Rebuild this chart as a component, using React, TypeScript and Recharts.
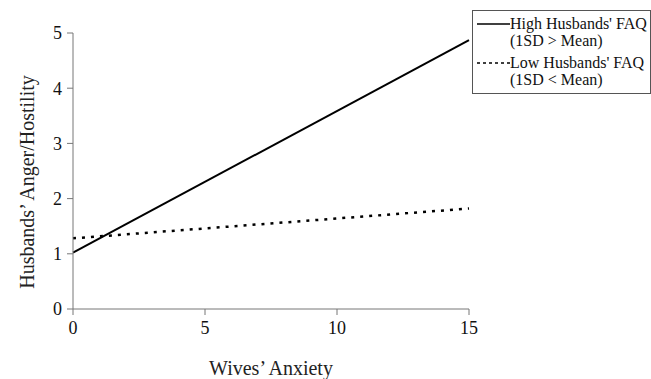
import React from 'react';
import { LineChart, Line, XAxis, YAxis, Label } from 'recharts';

const anxiety = [0, 15];
const highFAQ = [1.02, 4.87];
const lowFAQ = [1.28, 1.82];
const xTicks = [0, 5, 10, 15];
const yTicks = [0, 1, 2, 3, 4, 5];

const data = anxiety.map((x, i) => ({ x, high: highFAQ[i], low: lowFAQ[i] }));

const series = [
  { key: 'high', rows: ["High Husbands' FAQ", '(1SD > Mean)'], dash: undefined },
  { key: 'low', rows: ["Low Husbands' FAQ", '(1SD < Mean)'], dash: '3 3' },
];

const font = '"Liberation Serif", "DejaVu Serif", serif';

const LegendBox = () => (
  <div
    style={{
      position: 'absolute',
      left: 472,
      top: 10,
      width: 170,
      border: '1px solid #555',
      background: '#fff',
      padding: '4px 4px 5px 3px',
      fontFamily: font,
      fontSize: 16,
      lineHeight: '17px',
      color: '#111',
    }}
  >
    {series.map((s, i) => (
      <div key={s.key} style={{ display: 'flex', marginTop: i ? 5 : 0 }}>
        <svg width={34} height={17} style={{ flex: 'none' }}>
          <line
            x1={1}
            x2={34}
            y1={9}
            y2={9}
            stroke="#000"
            strokeWidth={1.5}
            strokeDasharray={s.dash}
          />
        </svg>
        <div>
          {s.rows.map((r) => (
            <div key={r} style={{ whiteSpace: 'nowrap' }}>{r}</div>
          ))}
        </div>
      </div>
    ))}
  </div>
);

export default function App() {
  return (
    <div style={{ position: 'absolute', left: 0, top: 0, width: 651, height: 379, background: '#fff' }}>
      <LineChart
        width={651}
        height={379}
        data={data}
        margin={{ top: 33, right: 182, left: 0, bottom: 0 }}
      >
        <XAxis
          dataKey="x"
          type="number"
          domain={[0, 15]}
          ticks={xTicks}
          height={70}
          stroke="#777"
          tickSize={6}
          tickMargin={6}
          tick={{ fill: '#111', fontFamily: font, fontSize: 18 }}
        >
          <Label
            value="Wives’ Anxiety"
            position="insideBottom"
            offset={4}
            style={{ fill: '#222', fontFamily: font, fontSize: 20 }}
          />
        </XAxis>
        <YAxis
          type="number"
          domain={[0, 5]}
          ticks={yTicks}
          width={73}
          stroke="#777"
          tickSize={6}
          tickMargin={5}
          tick={{ fill: '#111', fontFamily: font, fontSize: 18 }}
        >
          <Label
            value="Husbands’ Anger/Hostility"
            angle={-90}
            position="insideLeft"
            offset={27}
            dy={11}
            style={{ fill: '#222', fontFamily: font, fontSize: 20, textAnchor: 'middle' }}
          />
        </YAxis>
        <Line
          dataKey="high"
          name="High Husbands' FAQ"
          stroke="#000"
          strokeWidth={2}
          dot={false}
          isAnimationActive={false}
        />
        <Line
          dataKey="low"
          name="Low Husbands' FAQ"
          stroke="#000"
          strokeWidth={2.5}
          strokeDasharray="3 6"
          dot={false}
          isAnimationActive={false}
        />
      </LineChart>
      <LegendBox />
    </div>
  );
}
